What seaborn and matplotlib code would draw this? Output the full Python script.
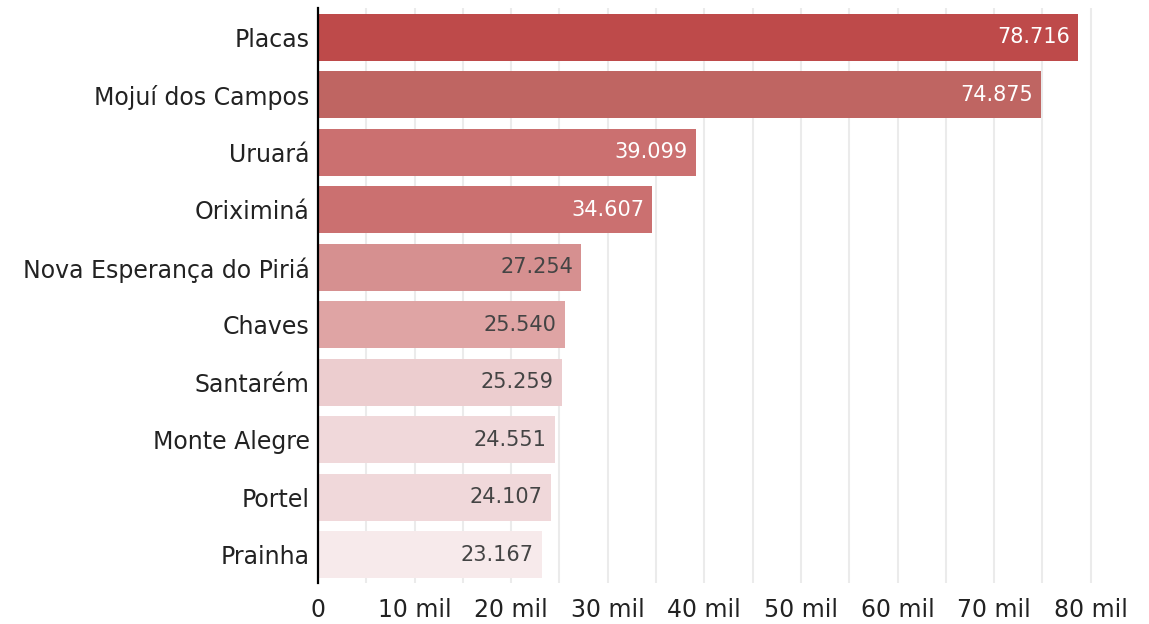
import matplotlib
matplotlib.use("Agg")
import matplotlib.pyplot as plt
from matplotlib.ticker import MultipleLocator, FuncFormatter
import seaborn as sns
import pandas as pd

categories = ["Placas", "Mojuí dos Campos", "Uruará", "Oriximiná",
              "Nova Esperança do Piriá", "Chaves", "Santarém",
              "Monte Alegre", "Portel", "Prainha"]
values = [78716, 74875, 39099, 34607, 27254, 25540, 25259, 24551, 24107, 23167]
bar_colors = ["#BE4A4A", "#BF6562", "#CB7070", "#CB7070", "#D69090",
              "#DFA4A4", "#ECCDCF", "#F0D8DA", "#F0D8DA", "#F7EAEB"]
label_colors = ["#FFFFFF", "#FFFFFF", "#FFFFFF", "#FFFFFF", "#444444",
                "#444444", "#444444", "#444444", "#444444", "#444444"]

df = pd.DataFrame({"municipio": categories, "valor": values})

sns.set_theme(style="white")
plt.rcParams["font.family"] = ["DejaVu Sans"]

fig = plt.figure(figsize=(11.49, 6.24), dpi=100)
ax = fig.add_axes([318/1149, 1 - 583/624, (1110 - 318)/1149, (583 - 8)/624])

sns.barplot(data=df, x="valor", y="municipio", hue="municipio",
            palette=bar_colors, legend=False, width=0.82, ax=ax,
            saturation=1, orient="h", linewidth=0)

ax.set_xlim(0, 82000)
ax.set_ylim(9.49, -0.51)

ax.xaxis.set_major_locator(MultipleLocator(10000))
ax.xaxis.set_minor_locator(MultipleLocator(5000))
ax.xaxis.set_major_formatter(FuncFormatter(lambda x, p: "0" if x == 0 else f"{int(round(x/1000))} mil"))
ax.grid(axis="x", which="both", color="#EBEBEB", linewidth=1.5)
ax.grid(axis="y", visible=False)
ax.set_axisbelow(True)

for s in ["top", "right", "bottom"]:
    ax.spines[s].set_visible(False)
ax.spines["left"].set_color("black")
ax.spines["left"].set_linewidth(1.6)

ax.tick_params(axis="both", length=0, labelsize=17, colors="#222222")
ax.tick_params(axis="y", pad=6)
ax.tick_params(axis="x", pad=11)
ax.set_xlabel("")
ax.set_ylabel("")

for i, (v, c) in enumerate(zip(values, label_colors)):
    ax.annotate(f"{v:,}".replace(",", "."), xy=(v, i), xytext=(-6, 0),
                textcoords="offset points", ha="right", va="center",
                fontsize=15, color=c)

fig.savefig("out.png", dpi=100)
